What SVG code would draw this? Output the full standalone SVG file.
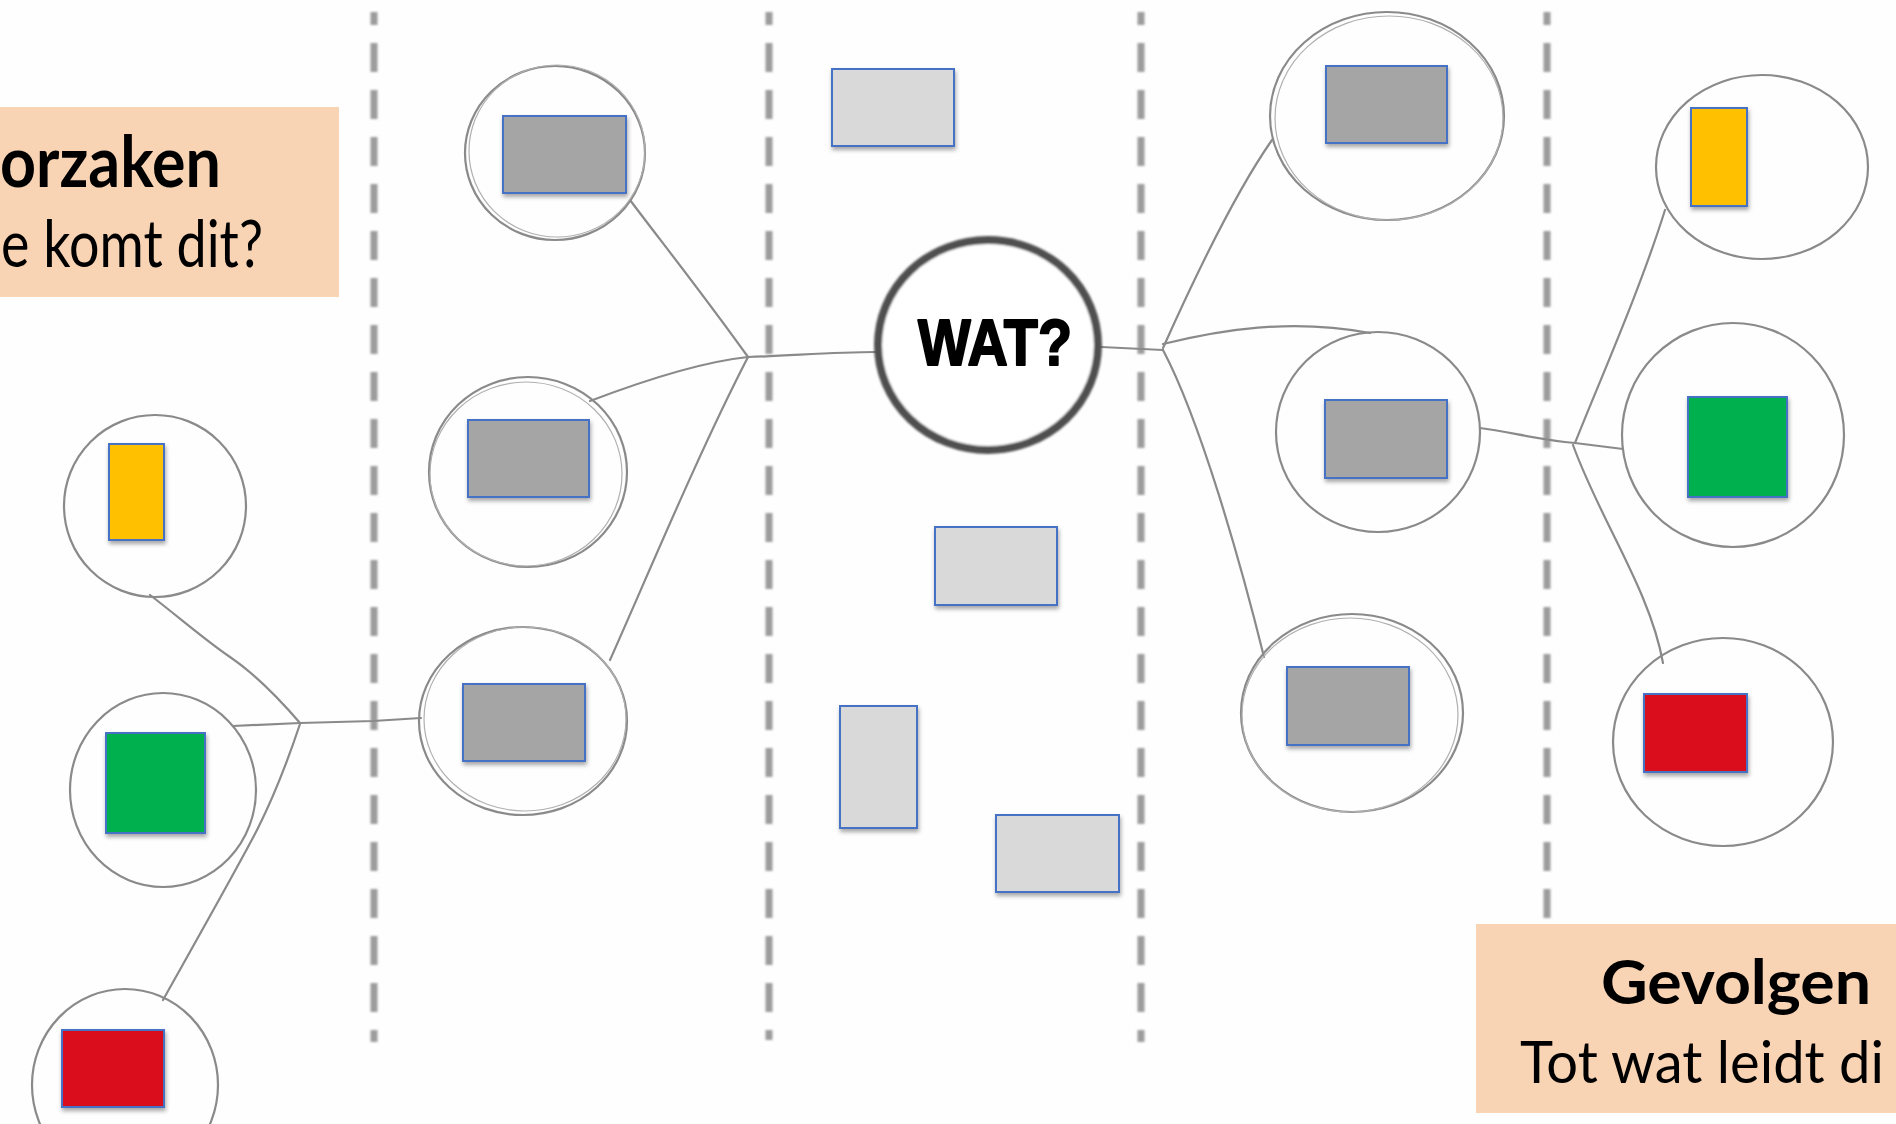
<svg xmlns="http://www.w3.org/2000/svg" width="1896" height="1124" viewBox="0 0 1896 1124">
<defs>
<filter id="sh" x="-20%" y="-20%" width="140%" height="150%">
<feDropShadow dx="1" dy="3" stdDeviation="2" flood-color="#000" flood-opacity="0.35"/>
</filter>
<filter id="soft" x="-5%" y="-5%" width="110%" height="110%">
<feGaussianBlur stdDeviation="0.9"/>
</filter>
</defs>
<style>
.ring{fill:none;stroke:#8a8a8a;stroke-width:2.2}
.ring2{fill:none;stroke:#b0b0b0;stroke-width:1.2}
.con{fill:none;stroke:#8a8a8a;stroke-width:2.2;stroke-linecap:round;stroke-linejoin:round}
.dash{stroke:#9c9c9c;stroke-width:7;stroke-dasharray:29 18;stroke-dashoffset:16}
.card{stroke:#4472C4;stroke-width:2;filter:url(#sh)}
.dk{fill:#A5A5A5}
.lt{fill:#D9D9D9}
.ye{fill:#FFC000}
.gr{fill:#00B050}
.rd{fill:#DA0E1C}
.lbl{fill:#F9D4B4}
.tb{font-family:Lato,"Open Sans","Liberation Sans",sans-serif;font-weight:700;fill:#000}
.tr{font-family:Lato,"Open Sans","Liberation Sans",sans-serif;font-weight:400;fill:#000}
</style>
<rect x="0" y="0" width="1896" height="1124" fill="#fefefe"/>

<g id="separators" filter="url(#soft)">
<line class="dash" x1="374" y1="12" x2="374" y2="1042"/>
<line class="dash" x1="769" y1="12" x2="769" y2="1040"/>
<line class="dash" x1="1141" y1="12" x2="1141" y2="1042"/>
<line class="dash" x1="1547" y1="12" x2="1547" y2="920"/>
</g>

<g id="connectors">
<path class="con" d="M150,595 C180,618 205,640 230,657 S282,702 300,723"/>
<path class="con" d="M233,726 L300,723"/>
<path class="con" d="M300,724 C288,760 272,800 258,828 S205,925 163,1000"/>
<path class="con" d="M300,723 L373,721 L421,718"/>
<path class="con" d="M630,200 C660,240 700,290 748,357"/>
<path class="con" d="M590,401 C640,382 700,362 748,357"/>
<path class="con" d="M610,660 C650,570 700,450 748,357"/>
<path class="con" d="M748,357 C790,356 830,352 876,352"/>
<path class="con" d="M1101,347 L1163,350"/>
<path class="con" d="M1163,348 C1180,310 1230,200 1272,140"/>
<path class="con" d="M1163,344 C1220,330 1290,318 1370,333"/>
<path class="con" d="M1163,350 C1200,420 1240,560 1264,657"/>
<path class="con" d="M1480,428 C1510,432 1540,440 1575,443"/>
<path class="con" d="M1575,443 C1600,380 1640,290 1665,210"/>
<path class="con" d="M1575,443 L1623,449"/>
<path class="con" d="M1573,445 C1600,520 1650,590 1663,663"/>
</g>

<g id="label-oorzaken">
<rect class="lbl" x="0" y="107" width="339" height="190"/>
<text class="tb" x="0" y="187" font-size="70" textLength="221" lengthAdjust="spacingAndGlyphs">orzaken</text>
<text class="tr" x="1" y="267" font-size="66" textLength="262" lengthAdjust="spacingAndGlyphs">e komt dit?</text>
</g>

<g id="label-gevolgen">
<rect class="lbl" x="1476" y="924" width="420" height="189"/>
<text class="tb" x="1601" y="1004" font-size="62" textLength="270" lengthAdjust="spacingAndGlyphs">Gevolgen</text>
<text class="tr" x="1520" y="1083" font-size="59" textLength="364" lengthAdjust="spacingAndGlyphs">Tot wat leidt di</text>
</g>

<g id="wat">
<ellipse cx="988" cy="345" rx="110" ry="105" fill="#fff" stroke="#505050" stroke-width="8" filter="url(#soft)"/>
<text x="918" y="365" font-family="'Liberation Sans',Arial,sans-serif" font-weight="700" font-size="64" textLength="154" lengthAdjust="spacingAndGlyphs" fill="#000" stroke="#000" stroke-width="2" stroke-linejoin="round">WAT?</text>
</g>

<g id="c1-yellow">
<ellipse class="ring" cx="155" cy="506" rx="91" ry="91"/>
<rect class="card ye" x="109" y="444" width="55" height="96"/>
</g>
<g id="c1-green">
<ellipse class="ring" cx="163" cy="790" rx="93" ry="97"/>
<rect class="card gr" x="106" y="733" width="99" height="100"/>
</g>
<g id="c1-red">
<ellipse class="ring" cx="125" cy="1085" rx="93" ry="96"/>
<rect class="card rd" x="62" y="1030" width="102" height="77"/>
</g>

<g id="c2-top">
<ellipse class="ring" cx="555" cy="153" rx="90" ry="87"/>
<ellipse class="ring2" cx="557" cy="151" rx="88" ry="86"/>
<rect class="card dk" x="503" y="116" width="123" height="77"/>
</g>
<g id="c2-mid">
<ellipse class="ring" cx="528" cy="472" rx="99" ry="95"/>
<ellipse class="ring2" cx="526" cy="474" rx="96" ry="92"/>
<rect class="card dk" x="468" y="420" width="121" height="77"/>
</g>
<g id="c2-bottom">
<ellipse class="ring" cx="523" cy="721" rx="104" ry="94"/>
<ellipse class="ring2" cx="525" cy="719" rx="101" ry="92"/>
<rect class="card dk" x="463" y="684" width="122" height="77"/>
</g>

<g id="m1"><rect class="card lt" x="832" y="69" width="122" height="77"/></g>
<g id="m2"><rect class="card lt" x="935" y="527" width="122" height="78"/></g>
<g id="m3"><rect class="card lt" x="840" y="706" width="77" height="122"/></g>
<g id="m4"><rect class="card lt" x="996" y="815" width="123" height="77"/></g>

<g id="c4-top">
<ellipse class="ring" cx="1387" cy="116" rx="117" ry="104"/>
<ellipse class="ring2" cx="1389" cy="118" rx="114" ry="102"/>
<rect class="card dk" x="1326" y="66" width="121" height="77"/>
</g>
<g id="c4-mid">
<ellipse class="ring" cx="1378" cy="432" rx="102" ry="100"/>
<rect class="card dk" x="1325" y="400" width="122" height="78"/>
</g>
<g id="c4-bottom">
<ellipse class="ring" cx="1352" cy="713" rx="111" ry="99"/>
<ellipse class="ring2" cx="1350" cy="715" rx="108" ry="97"/>
<rect class="card dk" x="1287" y="667" width="122" height="78"/>
</g>

<g id="c5-yellow">
<ellipse class="ring" cx="1762" cy="167" rx="106" ry="92"/>
<rect class="card ye" x="1691" y="108" width="56" height="98"/>
</g>
<g id="c5-green">
<ellipse class="ring" cx="1733" cy="435" rx="111" ry="112"/>
<rect class="card gr" x="1688" y="397" width="99" height="100"/>
</g>
<g id="c5-red">
<ellipse class="ring" cx="1723" cy="742" rx="110" ry="104"/>
<rect class="card rd" x="1644" y="694" width="103" height="78"/>
</g>
</svg>
